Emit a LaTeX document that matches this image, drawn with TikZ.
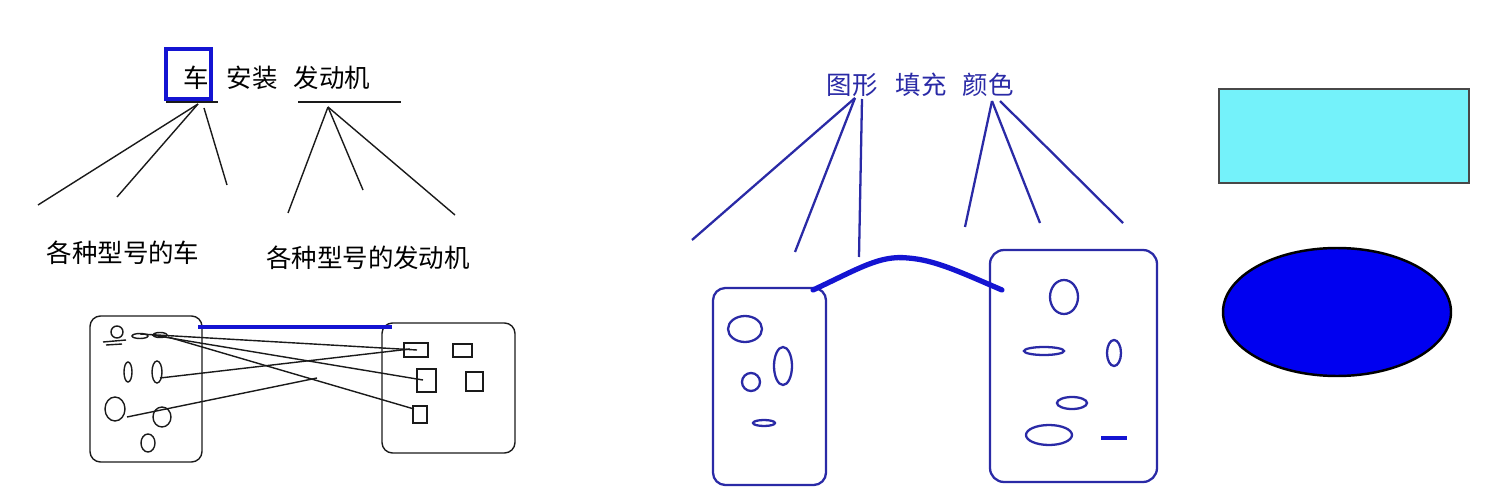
\documentclass[tikz,border=0pt]{standalone}
\usepackage{fontspec}
\newfontfamily\cjk{Noto Sans CJK SC}
\usepackage{tikz}
\usetikzlibrary{calc}
\definecolor{ink}{HTML}{1A1A1A}
\definecolor{navy}{HTML}{2A2AA6}
\definecolor{royal}{HTML}{1414D2}
\definecolor{sky}{HTML}{74F2FA}
\definecolor{pureblue}{HTML}{0000F0}
\tikzset{
  thinline/.style={draw=ink, line width=0.8pt},
  navyline/.style={draw=navy, line width=1.3pt},
  markline/.style={draw=royal, line width=2.6pt},
  lab/.style={font=\cjk\fontsize{14.5}{16}\selectfont, inner sep=0pt},
  navylab/.style={lab, text=navy},
}

\begin{document}
\begin{tikzpicture}[x=0.02cm,y=-0.02cm]
\useasboundingbox (0,0) rectangle (1485,500);
% car -- engine
\node[lab] (che) at (196,78) {车};
\node[lab] (anzhuang) at (252,78) {安装};
\node[lab] (fadongji) at (332,78) {发动机};
\draw[markline] (166,49) rectangle (211,99);
\draw[thinline] (166,102) -- (218,102);
\draw[thinline] (298,102) -- (401,102);
\coordinate (cheroot) at (198,104);
\coordinate (cheroot2) at (204,108);
\coordinate (fdjroot) at (328,107);
\coordinate (c1) at (38,205);
\coordinate (c2) at (117,197);
\coordinate (c3) at (227,185);
\coordinate (e1) at (288,213);
\coordinate (e2) at (363,190);
\coordinate (e3) at (455,215);
\draw[thinline] (cheroot) -- (c1);
\draw[thinline] (cheroot) -- (c2);
\draw[thinline] (cheroot2) -- (c3);
\draw[thinline] (fdjroot) -- (e1);
\draw[thinline] (fdjroot) -- (e2);
\draw[thinline] (fdjroot) -- (e3);
\node[lab] (cars) at (123,253) {各种型号的车};
\node[lab] (engines) at (368,258) {各种型号的发动机};

% car set and engine set
\draw[thinline, rounded corners=6pt] (90,316) rectangle (202,462);
\draw[thinline, rounded corners=6pt] (382,323) rectangle (515,453);
\coordinate (barl) at (198,327);
\coordinate (barr) at (392,327);
\draw[markline] (barl) -- (barr);
\draw[thinline] (117,332) circle (6 and 6);
\draw[thinline] (103,342) -- (126,340);
\draw[thinline] (106,345) -- (122,344);
\draw[thinline] (140,336) ellipse (8 and 2.5);
\draw[thinline] (160,335) ellipse (7 and 2.5);
\draw[thinline] (128,372) ellipse (4 and 10);
\draw[thinline] (157,372) ellipse (5 and 11);
\draw[thinline] (115,409) ellipse (10 and 12);
\draw[thinline] (162,417) ellipse (9 and 10);
\draw[thinline] (148,443) ellipse (7 and 9);
\draw[thinline] (404,343) rectangle (428,357);
\draw[thinline] (453,344) rectangle (472,357);
\draw[thinline] (417,369) rectangle (436,392);
\draw[thinline] (466,372) rectangle (483,391);
\draw[thinline] (413,406) rectangle (427,423);
\coordinate (s1) at (140,334);
\coordinate (s2) at (152,335);
\coordinate (s3) at (168,337);
\coordinate (o2) at (160,378);
\coordinate (o3) at (127,417);
\coordinate (q1) at (417,350);
\coordinate (q1b) at (410,349);
\coordinate (q3) at (423,380);
\coordinate (q5) at (414,409);
\coordinate (mid) at (317,378);
\draw[thinline] (s1) -- (q1);
\draw[thinline] (s2) -- (q3);
\draw[thinline] (s3) -- (q5);
\draw[thinline] (o2) -- (q1b);
\draw[thinline] (o3) -- (mid);

% shape -- fill -- colour
\node[navylab] (tuxing) at (852,85) {图形};
\node[navylab] (tianchong) at (921,85) {填充};
\node[navylab] (yanse) at (988,85) {颜色};
\coordinate (txroot) at (855,98);
\coordinate (txroot2) at (862,99);
\coordinate (ysroot) at (992,101);
\coordinate (ysroot2) at (1000,101);
\coordinate (t1) at (692,240);
\coordinate (t2) at (795,252);
\coordinate (t3) at (859,257);
\coordinate (y1) at (965,227);
\coordinate (y2) at (1040,223);
\coordinate (y3) at (1123,223);
\draw[navyline] (txroot) -- (t1);
\draw[navyline] (txroot) -- (t2);
\draw[navyline] (txroot2) -- (t3);
\draw[navyline] (ysroot) -- (y1);
\draw[navyline] (ysroot) -- (y2);
\draw[navyline] (ysroot2) -- (y3);

\draw[navyline, rounded corners=7pt] (713,288) rectangle (826,485);
\draw[navyline, rounded corners=8pt] (990,250) rectangle (1157,482);
\coordinate (arcl) at (813,290);
\coordinate (arcr) at (1002,290);
\draw[markline, line width=3pt, line cap=round] (arcl) .. controls (860,268) and (880,255) .. (908,258)
  .. controls (935,260) and (960,272) .. (arcr);
\draw[navyline] (745,329) ellipse (17 and 13);
\draw[navyline] (783,366) ellipse (9 and 19);
\draw[navyline] (751,382) ellipse (9 and 9);
\draw[navyline] (764,423) ellipse (11 and 3);
\draw[navyline] (1064,297) ellipse (14 and 17);
\draw[navyline] (1044,351) ellipse (20 and 4);
\draw[navyline] (1114,353) ellipse (7 and 13);
\draw[navyline] (1072,403) ellipse (15 and 6);
\draw[navyline] (1049,435) ellipse (23 and 10);
\draw[markline] (1101,438) -- (1127,438);

% filled samples
\draw[draw=ink!80, line width=0.7pt, fill=sky] (1219,89) rectangle (1469,183);
\draw[draw=black, line width=1.4pt, fill=pureblue] (1337,312) ellipse (114 and 64);
\end{tikzpicture}
\end{document}
